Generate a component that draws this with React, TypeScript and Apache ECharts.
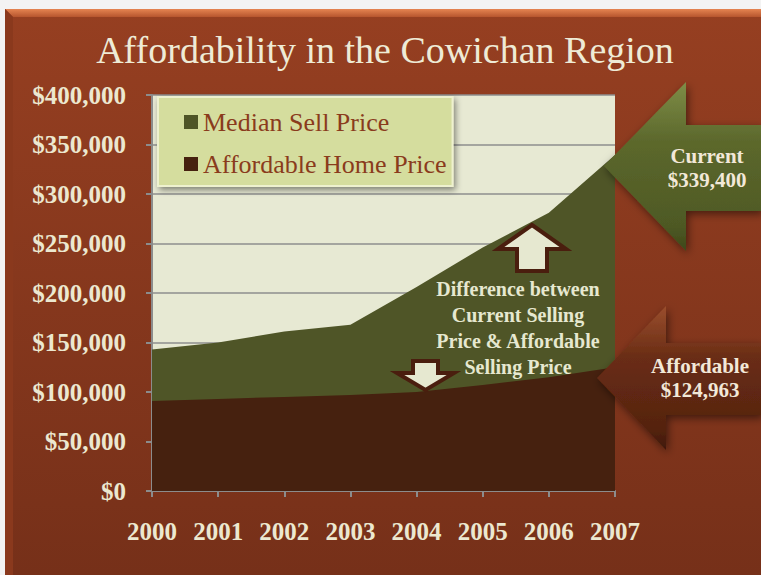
import React, { useEffect, useRef } from "react";
import * as echarts from "echarts";

const years = ["2000", "2001", "2002", "2003", "2004", "2005", "2006", "2007"];
const medianSellPrice = [143000, 150000, 161000, 168000, 206000, 246000, 281000, 339400];
const affordableHomePrice = [91000, 93000, 95000, 97000, 100000, 107000, 115000, 124963];
const yTicks = { min: 0, max: 400000, interval: 50000 };
const titleText = "Affordability in the Cowichan Region";
const noteLines = ["Difference between", "Current Selling", "Price & Affordable", "Selling Price"];

const SERIF = "'Liberation Serif', 'DejaVu Serif', serif";
const CREAM = "#ECE8D0";

export default function App() {
  const ref = useRef<HTMLDivElement>(null);
  useEffect(() => {
    if (!ref.current) return;
    const chart = echarts.init(ref.current, null, { renderer: "svg" });
    const LG = echarts.graphic.LinearGradient;
    const option: any = {
      animation: false,
      backgroundColor: "#F3F3F3",
      textStyle: { fontFamily: SERIF },
      grid: {
        left: 152,
        right: 146,
        top: 95,
        bottom: 84,
        show: true,
        backgroundColor: "#E7E9D3",
        borderWidth: 0,
      },
      legend: {
        left: 158,
        top: 97,
        orient: "vertical",
        icon: "rect",
        itemWidth: 14,
        itemHeight: 14,
        itemGap: 16,
        padding: [12, 6, 9, 26],
        backgroundColor: "#D5DD9E",
        borderColor: "#EEF1CF",
        borderWidth: 2,
        shadowBlur: 6,
        shadowColor: "rgba(0,0,0,0.45)",
        shadowOffsetX: 2,
        shadowOffsetY: 3,
        textStyle: { fontFamily: SERIF, fontSize: 26, color: "#8A3B1C" },
        data: ["Median Sell Price", "Affordable Home Price"],
      },
      xAxis: {
        type: "category",
        data: years,
        boundaryGap: false,
        axisLine: { show: true, lineStyle: { color: "#8C8C8C", width: 2 } },
        axisTick: { show: true, length: 6, lineStyle: { color: "#8C8C8C", width: 2 } },
        axisLabel: { color: CREAM, fontFamily: SERIF, fontWeight: "bold", fontSize: 25, margin: 28 },
        splitLine: { show: false },
      },
      yAxis: {
        type: "value",
        min: yTicks.min,
        max: yTicks.max,
        interval: yTicks.interval,
        axisLine: { show: true, lineStyle: { color: "#8C8C8C", width: 2 } },
        axisTick: { show: true, length: 6, lineStyle: { color: "#8C8C8C", width: 2 } },
        axisLabel: {
          color: CREAM,
          fontFamily: SERIF,
          fontWeight: "bold",
          fontSize: 25,
          margin: 26,
          formatter: (v: number) => "$" + v.toLocaleString("en-US"),
        },
        splitLine: { show: true, lineStyle: { color: "#8E8E8E", width: 1.5 } },
      },
      series: [
        {
          name: "Median Sell Price",
          type: "line",
          data: medianSellPrice,
          symbol: "none",
          lineStyle: { width: 0 },
          itemStyle: { color: "#4F5527" },
          areaStyle: { color: "#4F5527", opacity: 1 },
          z: 2,
        },
        {
          name: "Affordable Home Price",
          type: "line",
          data: affordableHomePrice,
          symbol: "none",
          lineStyle: { width: 0 },
          itemStyle: { color: "#46210F" },
          areaStyle: { color: "#46210F", opacity: 1 },
          z: 3,
        },
      ],
      graphic: [
        // slide background
        {
          type: "rect",
          z: -10,
          silent: true,
          shape: { x: 5, y: 9, width: 756, height: 566 },
          style: {
            fill: new LG(0, 0, 0, 1, [
              { offset: 0, color: "#963F21" },
              { offset: 1, color: "#763019" },
            ]),
          },
        },
        {
          type: "polygon",
          z: -9,
          silent: true,
          shape: { points: [[5, 9], [761, 9], [761, 17], [13, 17]] },
          style: {
            fill: new LG(0, 0, 0, 1, [
              { offset: 0, color: "#E58451" },
              { offset: 1, color: "#B6552E" },
            ]),
          },
        },
        {
          type: "polygon",
          z: -9,
          silent: true,
          shape: { points: [[5, 9], [13, 17], [13, 575], [5, 575]] },
          style: { fill: "#8A391D" },
        },
        {
          type: "text",
          z: 10,
          x: 385,
          y: 50,
          style: {
            text: titleText,
            fontFamily: SERIF,
            fontSize: 38,
            fill: "#EEEBD6",
            align: "center",
            verticalAlign: "middle",
          },
        },
        // Green arrow
        {
          type: "polygon",
          z: 10,
          shape: {
            points: [[604, 166], [686, 82], [686, 125], [761, 125], [761, 211], [686, 211], [686, 251]],
          },
          style: {
            fill: new LG(0, 0, 0, 1, [
              { offset: 0, color: "#7E8D47" },
              { offset: 0.35, color: "#5C682C" },
              { offset: 0.85, color: "#4E5924" },
              { offset: 1, color: "#3E4719" },
            ]),
            shadowBlur: 8,
            shadowColor: "rgba(0,0,0,0.5)",
            shadowOffsetX: 2,
            shadowOffsetY: 3,
          },
        },
        {
          type: "text",
          z: 11,
          x: 707,
          y: 156,
          style: {
            text: "Current",
            fontFamily: SERIF,
            fontWeight: "bold",
            fontSize: 21,
            fill: "#F2E8D8",
            align: "center",
            verticalAlign: "middle",
          },
        },
        {
          type: "text",
          z: 11,
          x: 707,
          y: 180,
          style: {
            text: "$339,400",
            fontFamily: SERIF,
            fontWeight: "bold",
            fontSize: 21,
            fill: "#F2E8D8",
            align: "center",
            verticalAlign: "middle",
          },
        },
        // Brown arrow
        {
          type: "polygon",
          z: 10,
          shape: {
            points: [[597, 378], [666, 306], [666, 343], [761, 343], [761, 415], [666, 415], [666, 450]],
          },
          style: {
            fill: new LG(0, 0, 0, 1, [
              { offset: 0, color: "#9A4E2D" },
              { offset: 0.35, color: "#6A2D15" },
              { offset: 0.85, color: "#55230F" },
              { offset: 1, color: "#3F1809" },
            ]),
            shadowBlur: 8,
            shadowColor: "rgba(0,0,0,0.5)",
            shadowOffsetX: 2,
            shadowOffsetY: 3,
          },
        },
        {
          type: "text",
          z: 11,
          x: 700,
          y: 366,
          style: {
            text: "Affordable",
            fontFamily: SERIF,
            fontWeight: "bold",
            fontSize: 21,
            fill: "#F2E8D8",
            align: "center",
            verticalAlign: "middle",
          },
        },
        {
          type: "text",
          z: 11,
          x: 700,
          y: 390,
          style: {
            text: "$124,963",
            fontFamily: SERIF,
            fontWeight: "bold",
            fontSize: 21,
            fill: "#F2E8D8",
            align: "center",
            verticalAlign: "middle",
          },
        },
        // hollow up arrow
        {
          type: "polygon",
          z: 10,
          shape: {
            points: [[532, 225], [566, 249], [547, 249], [547, 271], [517, 271], [517, 249], [498, 249]],
          },
          style: { fill: "#E6E8D0", stroke: "#4A1E0E", lineWidth: 4, lineJoin: "miter" },
        },
        // hollow down arrow
        {
          type: "polygon",
          z: 10,
          shape: {
            points: [[413, 361], [438, 361], [438, 373], [454, 373], [425.5, 390], [397, 373], [413, 373]],
          },
          style: { fill: "#E6E8D0", stroke: "#4A1E0E", lineWidth: 4, lineJoin: "miter" },
        },
        ...noteLines.map((t, i) => ({
          type: "text",
          z: 11,
          x: 518,
          y: 289 + i * 26,
          style: {
            text: t,
            fontFamily: SERIF,
            fontWeight: "bold",
            fontSize: 20,
            fill: "#E6E8D0",
            align: "center",
            verticalAlign: "middle",
          },
        })),
      ],
    };
    chart.setOption(option);
    return () => chart.dispose();
  }, []);
  return (
    <div
      ref={ref}
      style={{ position: "absolute", left: 0, top: 0, width: 761, height: 575 }}
    />
  );
}
